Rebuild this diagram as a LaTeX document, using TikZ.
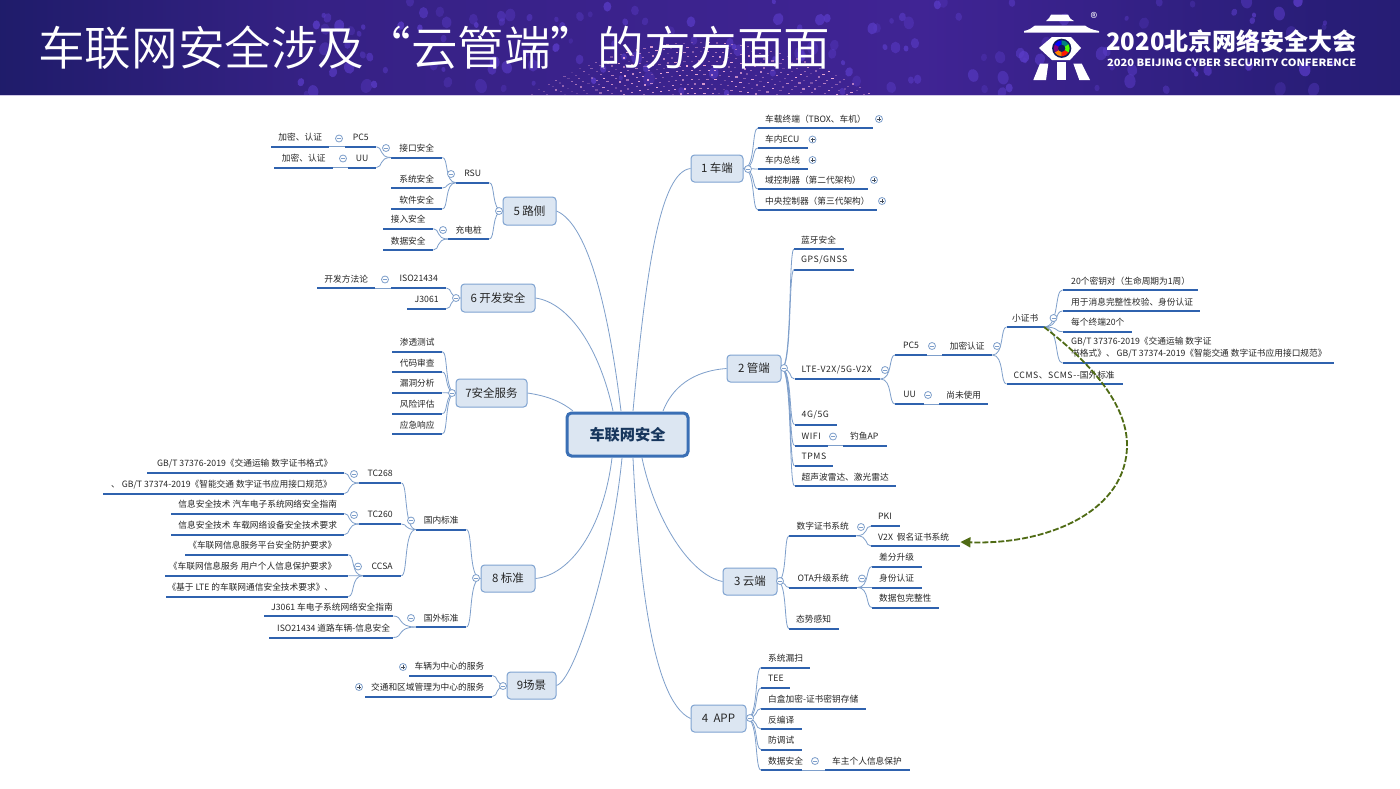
\documentclass[tikz,border=0pt]{standalone}
\usepackage{fontspec}
\setmainfont{Noto Sans CJK SC}
\newfontfamily\ttlfont{Noto Sans CJK SC DemiLight}
\usetikzlibrary{calc,arrows.meta}
\definecolor{ulc}{HTML}{2F62AE}
\definecolor{cnc}{HTML}{7E9FCB}
\definecolor{bxf}{HTML}{DCE6F2}
\definecolor{bxd}{HTML}{7FA3D1}
\definecolor{mnd}{HTML}{3A6FB5}
\definecolor{mnt}{HTML}{17365D}
\definecolor{txc}{HTML}{262626}
\definecolor{grn}{HTML}{4F6B14}
\definecolor{dotc}{HTML}{5A3CC8}
\definecolor{navya}{HTML}{0F1A5C}
\definecolor{purp}{HTML}{45249A}
\pgfdeclarehorizontalshading{bannershade}{100bp}{
  rgb(0bp)=(0.05,0.09,0.33);
  rgb(21bp)=(0.09,0.10,0.38);
  rgb(36bp)=(0.21,0.13,0.52);
  rgb(58bp)=(0.25,0.14,0.58);
  rgb(72bp)=(0.16,0.115,0.47);
  rgb(100bp)=(0.065,0.095,0.35)}
\newcounter{fdc}
\tikzset{
  tp/.style={inner xsep=0pt,inner ysep=0pt,minimum height=18pt,anchor=south west,text=txc,font=\fontsize{8.7}{12}\selectfont},
  under/.style={draw=ulc,line width=2pt},
  conn/.style={draw=cnc,line width=.8pt},
  lone/.style={rounded corners=3.5pt,draw=bxd,line width=1pt,fill=bxf,inner sep=0pt,text=txc,font=\fontsize{11.5}{13}\selectfont},
  fold/.style={circle,draw=cnc,fill=white,line width=.8pt,minimum size=7pt,inner sep=0pt},
  logow/.style={fill=white,draw=none},
}
\newcommand{\lsp}[1]{{\addfontfeature{LetterSpace=6}#1}}
\newcommand{\tpL}[6][7]{\node[tp] (#2) at (#3,#5) {\makebox[\dimexpr #4pt-#3pt\relax][l]{\hspace{#1pt}\vphantom{国}#6}};\draw[under] (#2.south west) -- (#2.south east);}
\newcommand{\tpC}[5]{\node[tp] (#1) at (#2,#4) {\makebox[\dimexpr #3pt-#2pt\relax][c]{\vphantom{国}#5}};\draw[under] (#1.south west) -- (#1.south east);}
\newcommand{\tpR}[6][7]{\node[tp] (#2) at (#3,#5) {\makebox[\dimexpr #4pt-#3pt\relax][r]{\vphantom{国}#6\hspace{#1pt}}};\draw[under] (#2.south west) -- (#2.south east);}
\newcommand{\lnk}[2]{\draw[conn] (#1) .. controls ($(#1)!.85!(#2 |- #1)$) and ($(#2)!.45!(#1 |- #2)$) .. (#2);}
\newcommand{\bxN}[6]{\node[lone,minimum width=\dimexpr #4pt-#2pt\relax,minimum height=\dimexpr #5pt-#3pt\relax] (#1) at ({(#2+#4)/2},{(#3+#5)/2}) {#6};}
\newcommand{\fdM}[2]{\stepcounter{fdc}\node[fold] (fd\arabic{fdc}) at (#1,#2) {};\draw[cnc,line width=.8pt] ($(fd\arabic{fdc})+(-2,0)$) -- ($(fd\arabic{fdc})+(2,0)$);}
\newcommand{\fdP}[2]{\stepcounter{fdc}\node[fold] (fd\arabic{fdc}) at (#1,#2) {};\draw[txc!70!cnc,line width=.7pt] ($(fd\arabic{fdc})+(-2,0)$) -- ($(fd\arabic{fdc})+(2,0)$) ($(fd\arabic{fdc})+(0,-2)$) -- ($(fd\arabic{fdc})+(0,2)$);}
\begin{document}
\begin{tikzpicture}[x=1pt,y=-1pt]
\useasboundingbox (0,0) rectangle (1400,788);
\fill[white] (0,0) rectangle (1400,788);
% banner
\shade[shading=bannershade] (0,0) rectangle (1400,94.5);
\fill[white!75!purp] (0,94.5) rectangle (1400,96);
\pgfmathsetseed{11}
\begin{scope}
\clip (0,0) rectangle (1400,94.5);
\foreach \i in {1,...,150}{
  \pgfmathsetmacro\dx{300+1040*rnd}
  \pgfmathsetmacro\dy{94*rnd}
  \pgfmathsetmacro\dr{2+3.8*rnd}
  \pgfmathsetmacro\da{70+40*rnd}
  \pgfmathsetmacro\dop{.3+.5*rnd}
  \fill[dotc,opacity=\dop] (\dx,\dy) ellipse [x radius=\dr,y radius=1.25*\dr,rotate=\da-90];
}
\foreach \r in {0,...,11}{
  \pgfmathsetmacro\yy{42+4.6*\r}
  \foreach \j in {-22,...,22}{
    \pgfmathsetmacro\xx{690+8*\j+4*mod(\r,2)+2*rnd}
    \pgfmathsetmacro\ty{\yy+0.0018*(\xx-700)*(\xx-700)}
    \pgfmathsetmacro\dop{(.2+.75*rnd)*(\xx<600 ? .6 : 1)}
    \fill[white!70!magenta,opacity=\dop] (\xx,\ty) rectangle ++(2.2,1.2);
  }
}
\end{scope}
\node[anchor=west,inner sep=0pt,text=white,font=\ttlfont\fontsize{46.6}{50}\selectfont] (title) at (38,48) {车联网安全涉及“云管端”的方方面面};
% logo
\fill[logow] (1046,21) -- (1074,21) .. controls (1070,19) and (1069,17) .. (1068,14.5) -- (1051,14.5) .. controls (1050,17) and (1049,19) .. (1046,21) -- cycle;
\fill[logow] (1035,25.5) -- (1085,25.5) .. controls (1088,28) and (1093,30) .. (1099,31) -- (1099,32.5) -- (1024,32.5) -- (1024,31) .. controls (1029,30) and (1032,28) .. (1035,25.5) -- cycle;
\fill[logow] (1039,48) -- (1052,37) -- (1071,37) -- (1081,48) -- (1070,60) -- (1052,60) -- cycle;
\fill[logow] (1040,63.5) -- (1048.3,63.5) -- (1046,80) -- (1033.3,80) -- cycle;
\fill[logow] (1056.7,62) -- (1066,62) -- (1066,80) -- (1056.7,80) -- cycle;
\fill[logow] (1073.3,63.5) -- (1081.7,63.5) -- (1090,80) -- (1079.3,80) -- cycle;
\coordinate (eye) at (1061.7,48.3);
\fill[navya] (eye) circle (9.6);
\foreach \a/\c in {30/red!80!orange,90/orange,150/violet,210/blue,270/teal,330/green!70!yellow}{
  \fill[\c] (eye) -- ++(\a:8) arc[start angle=\a,end angle=\a+60,radius=8] -- cycle;
}
\fill[navya] (eye) circle (3.6);
\node[inner sep=0pt,text=white,font=\fontsize{14}{15}\selectfont] (regm) at (1094,17.5) {®};
\node[anchor=west,inner sep=0pt,text=white,font=\bfseries\fontsize{24}{26}\selectfont] (conf) at (1106,41.5) {2020北京网络安全大会};
\node[anchor=west,inner sep=0pt,text=white,font=\bfseries] (confen) at (1107,63) {\resizebox{249pt}{7.6pt}{2020 BEIJING CYBER SECURITY CONFERENCE}};
% main and level one
\node[rounded corners=4.5pt,draw=mnd,line width=3pt,fill=bxf,inner sep=0pt,minimum width=121pt,minimum height=43pt,text=mnt,font=\bfseries\fontsize{15.2}{17}\selectfont] (main) at (627.5,434.5) {车联网安全};
\bxN{na}{691}{155}{743}{182}{1 车端}
\bxN{nb}{727}{355}{781}{382}{2 管端}
\bxN{nc}{723}{568}{777}{595}{3 云端}
\bxN{nd}{691}{705}{746}{732}{4\ \ APP}
\bxN{ne}{503}{197}{556}{225}{5 路侧}
\bxN{nf}{461}{284}{535}{312}{6 开发安全}
\bxN{ng}{456}{379}{527}{407}{7安全服务}
\bxN{nh}{481}{565}{535}{592}{8 标准}
\bxN{ni}{507}{672}{556}{699}{9场景}
% main connectors
\coordinate (ta) at (633,411);
\coordinate (tb) at (663,411);
\coordinate (te) at (621,411);
\coordinate (tf) at (613,411);
\coordinate (tg) at (573,411);
\coordinate (bh) at (612,458);
\coordinate (bi) at (622,458);
\coordinate (bd) at (633,458);
\coordinate (bc) at (642,458);
\draw[conn] (na.west) .. controls (660,172) and (646,270) .. (ta);
\draw[conn] (nb.west) .. controls (692,371) and (672,388) .. (tb);
\draw[conn] (ne.east) .. controls (590,225) and (610,320) .. (te);
\draw[conn] (nf.east) .. controls (570,303) and (600,350) .. (tf);
\draw[conn] (ng.east) .. controls (548,396) and (562,402) .. (tg);
\draw[conn] (nh.east) .. controls (570,575) and (603,530) .. (bh);
\draw[conn] (ni.east) .. controls (575,680) and (612,560) .. (bi);
\draw[conn] (nd.west) .. controls (650,700) and (638,560) .. (bd);
\draw[conn] (nc.west) .. controls (690,575) and (655,520) .. (bc);
% 1
\tpL{aa}{758}{873}{128}{车载终端（TBOX、车机）}
\tpL{ab}{758}{808}{148}{车内ECU}
\tpL{ac}{758}{808}{169}{车内总线}
\tpL{ad}{758}{868}{189}{域控制器（第二代架构）}
\tpL{ae}{758}{877}{210}{中央控制器（第三代架构）}
\foreach \k in {aa,ab,ac,ad,ae}{\lnk{na.east}{\k.south west}}
\fdM{748}{169}
\fdP{879}{119}\fdP{812.5}{139.5}\fdP{812.5}{160}\fdP{874}{180}\fdP{882}{201}
% 2
\tpL{ba}{794}{844}{249}{蓝牙安全}
\tpL{bb}{794}{854}{269.5}{\lsp{GPS/GNSS}}
\tpL{bc}{794.5}{880}{379}{\lsp{LTE-V2X/5G-V2X}}
\tpL{bd}{794.5}{837}{424.5}{\lsp{4G/5G}}
\tpL{be}{794.5}{828}{445.5}{\lsp{WIFI}}
\tpL{bf}{794.5}{833}{466}{\lsp{TPMS}}
\tpL{bg}{794.5}{896}{486}{超声波雷达、激光雷达}
\foreach \k in {ba,bb,bc,bd,be,bf,bg}{\lnk{nb.east}{\k.south west}}
\fdM{784}{368}
\tpL{bh}{843}{887}{445.5}{钓鱼AP}
\draw[conn] (be.south east) -- (bh.south west);
\fdM{833}{436.5}
\tpC{pa}{895}{926.5}{355}{PC5}
\tpC{pb}{895}{924}{404}{UU}
\lnk{bc.south east}{pa.south west}
\lnk{bc.south east}{pb.south west}
\fdM{885}{370}
\tpC{pc}{942}{992}{355}{加密认证}
\tpC{pd}{939}{988}{404}{尚未使用}
\draw[conn] (pa.south east) -- (pc.south west);
\draw[conn] (pb.south east) -- (pd.south west);
\fdM{932}{346}\fdM{928}{395}
\tpC{qa}{1006.5}{1043.6}{327}{小证书}
\tpL{qb}{1006.5}{1123}{384}{\lsp{CCMS、SCMS-{}-}国外标准}
\lnk{pc.south east}{qa.south west}
\lnk{pc.south east}{qb.south west}
\fdM{997}{346}
\tpL[8.5]{ra}{1062.5}{1198}{290}{20个密钥对（生命周期为1周）}
\tpL[8.5]{rb}{1062.5}{1199.6}{311}{用于消息完整性校验、身份认证}
\tpL[8.5]{rc}{1062.5}{1132}{331.6}{每个终端20个}
\node[tp,inner ysep=3pt] (rd) at (1062.5,363) {\makebox[271.5pt][l]{\hspace{8.5pt}\begin{tabular}{@{}l@{}}GB/T 37376-2019《交通运输 数字证\\书格式》、 GB/T 37374-2019《智能交通 数字证书应用接口规范》\end{tabular}}};
\draw[under] (rd.south west) -- (rd.south east);
\foreach \k in {ra,rb,rc,rd}{\lnk{qa.south east}{\k.south west}}
\fdM{1053.5}{318}
% 3
\tpC{ca}{789}{856}{535.7}{数字证书系统}
\tpC{cb}{789}{857}{587.5}{OTA升级系统}
\tpL{cc}{789}{839}{628.5}{态势感知}
\foreach \k in {ca,cb,cc}{\lnk{nc.east}{\k.south west}}
\fdM{780}{581}
\tpL{da}{871}{900}{526}{PKI}
\tpL{db}{871}{960}{546}{V2X\ \ 假名证书系统}
\lnk{ca.south east}{da.south west}
\lnk{ca.south east}{db.south west}
\fdM{861}{527}
\tpL{dc}{872}{922}{566.5}{差分升级}
\tpL{dd}{872}{922}{587.5}{身份认证}
\tpL{de}{872}{939}{607.5}{数据包完整性}
\foreach \k in {dc,dd,de}{\lnk{cb.south east}{\k.south west}}
\fdM{862}{578.5}
% 4
\tpL{ea}{761}{810}{667.7}{系统漏扫}
\tpL{eb}{761}{790}{688}{TEE}
\tpL{ec}{761}{866}{708.5}{白盒加密-证书密钥存储}
\tpL{ed}{761}{802}{729}{反编译}
\tpL{ee}{761}{802}{749.5}{防调试}
\tpL{ef}{761}{802}{770}{数据安全}
\foreach \k in {ea,eb,ec,ed,ee,ef}{\lnk{nd.east}{\k.south west}}
\fdM{750}{718}
\tpL{eg}{825}{910}{770}{车主个人信息保护}
\draw[conn] (ef.south east) -- (eg.south west);
\fdM{815}{761}
% 5
\tpC{ga}{456}{489}{182.7}{RSU}
\tpC{gb}{448}{489}{239}{充电桩}
\lnk{ne.west}{ga.south east}
\lnk{ne.west}{gb.south east}
\fdM{499}{211}
\tpC{gc}{391}{442}{157.5}{接口安全}
\tpC{gd}{391}{442}{188}{系统安全}
\tpC{ge}{391}{442}{209}{软件安全}
\foreach \k in {gc,gd,ge}{\lnk{ga.south west}{\k.south east}}
\fdM{451}{174}
\tpC{gf}{383}{433}{228.7}{接入安全}
\tpC{gg}{383}{433}{250}{数据安全}
\foreach \k in {gf,gg}{\lnk{gb.south west}{\k.south east}}
\fdM{443}{230}
\tpC{gh}{345}{376}{146.7}{PC5}
\tpC{gi}{348}{376}{167.5}{UU}
\foreach \k in {gh,gi}{\lnk{gc.south west}{\k.south east}}
\fdM{386}{148}
\tpC{gj}{271}{329}{146.7}{加密、认证}
\tpC{gk}{274}{333}{167.5}{加密、认证}
\draw[conn] (gh.south west) -- (gj.south east);
\draw[conn] (gi.south west) -- (gk.south east);
\fdM{339}{138.5}\fdM{343}{158.5}
% 6
\tpC{ha}{391}{446}{288}{ISO21434}
\tpC{hb}{407}{446}{308.7}{J3061}
\foreach \k in {ha,hb}{\lnk{nf.west}{\k.south east}}
\fdM{456}{298}
\tpC{hc}{317}{375}{288}{开发方法论}
\draw[conn] (ha.south west) -- (hc.south east);
\fdM{385}{279.5}
% 7
\tpC{ia}{392}{442}{351.7}{渗透测试}
\tpC{ib}{392}{442}{372}{代码审查}
\tpC{ic}{392}{442}{392.7}{漏洞分析}
\tpC{id}{392}{442}{413.7}{风险评估}
\tpC{ie}{392}{442}{434}{应急响应}
\foreach \k in {ia,ib,ic,id,ie}{\lnk{ng.west}{\k.south east}}
\fdM{452}{393}
% 8
\tpC{ja}{416}{466}{529.5}{国内标准}
\tpC{jb}{416}{466}{627}{国外标准}
\foreach \k in {ja,jb}{\lnk{nh.west}{\k.south east}}
\fdM{476}{578}
\tpC{ka}{359}{401}{483}{TC268}
\tpC{kb}{359}{401}{524}{TC260}
\tpC{kc}{363}{401}{575.7}{CCSA}
\foreach \k in {ka,kb,kc}{\lnk{ja.south west}{\k.south east}}
\fdM{411}{520.5}
\tpL[10]{la}{147}{344}{473}{GB/T 37376-2019《交通运输 数字证书格式》}
\tpL[8]{lb}{103}{344}{493.5}{、 GB/T 37374-2019《智能交通 数字证书应用接口规范》}
\foreach \k in {la,lb}{\lnk{ka.south west}{\k.south east}}
\fdM{354}{474}
\tpC{lc}{171}{344}{513.5}{信息安全技术 汽车电子系统网络安全指南}
\tpC{ld}{171}{344}{534.7}{信息安全技术 车载网络设备安全技术要求}
\foreach \k in {lc,ld}{\lnk{kb.south west}{\k.south east}}
\fdM{354}{515}
\tpR[12]{le}{185}{348}{554.7}{《车联网信息服务平台安全防护要求》}
\tpR[12]{lf}{165}{348}{575.7}{《车联网信息服务 用户个人信息保护要求》}
\tpR[15]{lg}{166}{348}{596.5}{《基于 LTE 的车联网通信安全技术要求》、}
\foreach \k in {le,lf,lg}{\lnk{kc.south west}{\k.south east}}
\fdM{358}{566.5}
\tpL{lh}{264}{393}{616}{J3061 车电子系统网络安全指南}
\tpL[8]{li}{269}{393}{637.5}{ISO21434 道路车辆-信息安全}
\foreach \k in {lh,li}{\lnk{jb.south west}{\k.south east}}
\fdM{411}{618}
% 9
\tpR[8]{ma}{409}{492}{675.5}{车辆为中心的服务}
\tpR[8]{mb}{365}{492}{696.5}{交通和区域管理为中心的服务}
\foreach \k in {ma,mb}{\lnk{ni.west}{\k.south east}}
\fdM{503}{686}
\fdP{403}{667}\fdP{359}{687}
% relation
\coordinate (rel) at ($(db.south east)+(0,-4)$);
\draw[grn,line width=1.8pt,dash pattern=on 6pt off 2pt,-{Triangle[length=10pt,width=10pt]}] (qa.south east) .. controls (1100,370) and (1127,410) .. (1127,445) .. controls (1127,510) and (1050,545) .. (rel);
\end{tikzpicture}
\end{document}
